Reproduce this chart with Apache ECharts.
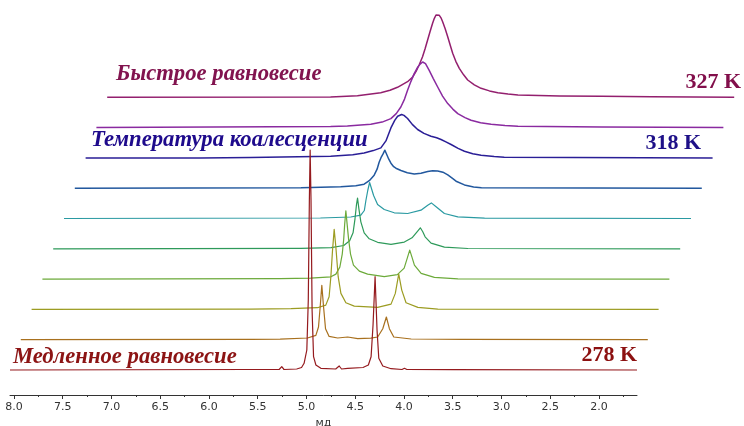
<!DOCTYPE html>
<html>
<head>
<meta charset="utf-8">
<script src="https://cdn.jsdelivr.net/npm/echarts@6/dist/echarts.min.js"></script>
<style>html,body{margin:0;padding:0;background:#fff}#c{width:744px;height:426px}</style>
</head>
<body>
<div id="c"></div>
<script>
// chemical shift range (ppm) of every trace, and axis ticks
const ppmMin = 1.61, ppmMax = 8.04;
const majorTicks = [2.0, 2.5, 3.0, 3.5, 4.0, 4.5, 5.0, 5.5, 6.0, 6.5, 7.0, 7.5, 8.0];
const minorTicks = [1.75, 2.25, 2.75, 3.25, 3.75, 4.25, 4.75, 5.25, 5.75, 6.25, 6.75, 7.25, 7.75];

// spectra: [ppm, intensity], front (278 K) to back (327 K)
const s0 = [[8.04,0],[5.6,0.5],[5.28,0.5],[5.253,3.3],[5.23,0.5],[5.1,1],[5.05,2.5],[5.024,6.7],[4.996,20],[4.981,70],[4.97,170],[4.962,220],[4.953,170],[4.942,60],[4.927,13.3],[4.903,5],[4.852,1.7],[4.70,1],[4.664,4],[4.64,1],[4.577,1.7],[4.42,2.5],[4.365,5],[4.337,13.3],[4.317,45],[4.296,93.3],[4.276,40],[4.258,11.7],[4.217,4],[4.132,1.3],[4.02,0.5],[3.995,1.7],[3.97,0.5],[3.5,0.3],[1.61,0]];
const s1 = [[8.04,0],[5.68,0.3],[5.38,0.5],[5.1,1.7],[5.014,4.3],[4.987,12.7],[4.97,32.7],[4.953,54.3],[4.935,32.7],[4.915,11],[4.878,3.3],[4.791,1.7],[4.688,2.7],[4.585,1],[4.45,1.5],[4.38,2.7],[4.328,11],[4.291,22.7],[4.26,11],[4.215,2.7],[4.037,0.7],[3.5,0.3],[1.61,0]];
const s2 = [[8.04,0],[5.79,0.3],[5.38,0.7],[5.108,1.7],[5.023,4.3],[4.989,12.7],[4.971,32.7],[4.954,59],[4.937,80],[4.92,62.7],[4.896,32.7],[4.868,16],[4.817,6.7],[4.731,3.3],[4.491,2],[4.354,5.3],[4.31,16],[4.275,35.3],[4.244,19.3],[4.2,6.7],[4.079,2],[3.874,0.3],[1.61,0]];
const s3 = [[8.04,0],[5.6,0.5],[5.29,1],[5.082,2.3],[5.03,5],[4.99,12],[4.965,25],[4.95,40],[4.94,55],[4.928,68.3],[4.915,55],[4.9,40],[4.88,25],[4.85,14],[4.79,8],[4.705,5],[4.534,2.5],[4.40,4.5],[4.33,11],[4.295,22],[4.273,29],[4.25,22],[4.225,14],[4.156,5.7],[4.02,1.7],[3.779,0.3],[1.61,0]];
const s4 = [[8.04,0],[5.5,0.5],[5.19,1.2],[5.06,3.3],[5.0,8],[4.965,16],[4.945,30],[4.93,44],[4.919,50.7],[4.905,40],[4.885,27],[4.851,16],[4.799,10],[4.713,6.5],[4.576,4.5],[4.439,6.7],[4.36,11],[4.3,18],[4.275,21],[4.25,17],[4.226,12],[4.165,5.7],[4.028,1.7],[3.787,0.3],[1.61,0]];
const s5 = [[8.04,0],[5.41,0.5],[5.099,1.5],[4.996,3.3],[4.96,8],[4.944,18],[4.925,28],[4.906,36],[4.89,31],[4.865,23],[4.824,14],[4.756,9],[4.653,5.7],[4.515,5],[4.379,8.3],[4.31,13.3],[4.273,15.6],[4.224,11.7],[4.139,5],[4.001,1.7],[3.727,0.3],[1.61,0]];
const s6 = [[8.04,0],[5.72,0.5],[5.313,1.5],[5.158,2.5],[5.073,4],[5.02,7.5],[4.97,13],[4.94,19],[4.919,26],[4.9,30.5],[4.88,34],[4.86,38],[4.84,33.5],[4.82,29],[4.798,25],[4.77,21.5],[4.747,20],[4.695,17.7],[4.63,15.5],[4.559,14.3],[4.49,15],[4.421,16.7],[4.37,17.5],[4.318,17.3],[4.265,16],[4.215,13.3],[4.17,10],[4.13,7],[4.044,3.3],[3.95,1.3],[3.87,0.5],[1.61,0]];
const s7 = [[8.04,0],[6.86,0],[6.35,0.5],[5.527,1.7],[5.3,3.2],[5.184,5],[5.09,7.3],[5.012,10],[4.96,17],[4.909,30],[4.87,37.5],[4.84,41.7],[4.82,43],[4.799,43.4],[4.775,42.5],[4.738,39.4],[4.69,33.5],[4.635,28.4],[4.57,24.5],[4.498,21.7],[4.44,20.2],[4.395,18.4],[4.345,16],[4.292,13.4],[4.22,9.5],[4.155,6.7],[4.07,4.2],[3.984,2.7],[3.85,1.3],[3.747,0.7],[1.61,0]];
const s8 = [[8.04,0],[5.638,1],[5.466,1.6],[5.226,3.3],[5.11,5.5],[5.02,9],[4.965,14],[4.918,20.6],[4.88,28.5],[4.849,37.3],[4.815,46],[4.781,54],[4.745,60.5],[4.72,63.5],[4.694,65.6],[4.665,64],[4.627,57.3],[4.585,49],[4.54,40.6],[4.49,31.5],[4.437,24],[4.385,18.5],[4.334,14],[4.26,10],[4.198,7.3],[4.1,4.8],[3.992,3.3],[3.85,2],[3.717,1.3],[2.86,0.5],[1.61,0]];
const s9 = [[8.04,0],[5.749,0.3],[5.474,1.6],[5.235,4.6],[5.14,7],[5.063,10],[4.96,15.6],[4.91,20],[4.874,25.6],[4.84,32.5],[4.806,40.6],[4.78,48.5],[4.754,57.3],[4.728,66],[4.703,74],[4.685,79],[4.668,82.3],[4.651,83.3],[4.634,82],[4.617,79.5],[4.6,75.6],[4.574,68.5],[4.548,60.6],[4.522,52],[4.497,44],[4.465,36],[4.429,29],[4.385,22.5],[4.343,17.3],[4.275,12.5],[4.206,9],[4.12,6.4],[4.034,4.6],[3.93,3.2],[3.828,2.3],[3.4,1.4],[2.97,1],[2.46,0.5],[1.61,0]];

const spectra = [s0, s1, s2, s3, s4, s5, s6, s7, s8, s9];
const colors = ['#951a1e', '#a8701e', '#9c9c22', '#6caa3a', '#2e9a5a', '#2a9aa2', '#22589e', '#2a1e96', '#8a2aa0', '#931f6e'];

const chart = echarts.init(document.getElementById('c'), null, {renderer: 'canvas'});
const grids = [], xAxes = [], yAxes = [], series = [];
spectra.forEach((d, i) => {
  grids.push({left: 10 + 10.8 * i, width: 627, bottom: 56 + 30.3 * i, height: 250, outerBoundsMode: 'none', containLabel: false});
  xAxes.push({type: 'value', gridIndex: i, min: ppmMin, max: ppmMax, inverse: true, show: false});
  yAxes.push({type: 'value', gridIndex: i, min: 0, max: 250, show: false});
});
for (let i = spectra.length - 1; i >= 0; i--) {
  series.push({
    type: 'line', xAxisIndex: i, yAxisIndex: i, data: spectra[i],
    symbol: 'none', showSymbol: false, silent: true, clip: false, smooth: false,
    lineStyle: {color: colors[i], width: i >= 6 ? 1.5 : 1.2, join: 'round'}
  });
}
// visible ppm axis under the front trace
xAxes.push({
  type: 'value', gridIndex: 0, min: ppmMin, max: ppmMax, inverse: true, position: 'bottom', offset: 25,
  axisLine: {show: true, lineStyle: {color: '#333', width: 1}},
  axisTick: {show: true, customValues: majorTicks, length: 4, lineStyle: {color: '#333'}},
  axisLabel: {show: true, customValues: majorTicks, formatter: v => v.toFixed(1), fontSize: 11, fontFamily: 'DejaVu Sans', color: '#333', margin: 7},
  splitLine: {show: false},
  name: 'мд', nameLocation: 'middle', nameGap: 22,
  nameTextStyle: {fontSize: 11, fontFamily: 'DejaVu Sans', color: '#333'}
});
xAxes.push({
  type: 'value', gridIndex: 0, min: ppmMin, max: ppmMax, inverse: true, position: 'bottom', offset: 25,
  axisLine: {show: false},
  axisTick: {show: true, customValues: minorTicks, length: 2, lineStyle: {color: '#333'}},
  axisLabel: {show: false}, splitLine: {show: false}
});

const serifBI = 'italic bold 22.7px "Liberation Serif"';
const serifB = 'bold 22px "Liberation Serif"';
chart.setOption({
  animation: false,
  backgroundColor: '#fff',
  grid: grids, xAxis: xAxes, yAxis: yAxes, series: series,
  graphic: [
    {type: 'text', x: 116, y: 74, style: {text: 'Быстрое равновесие', font: serifBI, fill: '#82144f', textAlign: 'left', textVerticalAlign: 'middle'}},
    {type: 'text', x: 91, y: 140, style: {text: 'Температура коалесценции', font: serifBI, fill: '#1e0a8c', textAlign: 'left', textVerticalAlign: 'middle'}},
    {type: 'text', x: 13, y: 357, style: {text: 'Медленное равновесие', font: serifBI, fill: '#8c1414', textAlign: 'left', textVerticalAlign: 'middle'}},
    {type: 'text', x: 741, y: 82, style: {text: '327 K', font: serifB, fill: '#820f4b', textAlign: 'right', textVerticalAlign: 'middle'}},
    {type: 'text', x: 701, y: 143, style: {text: '318 K', font: serifB, fill: '#1e1088', textAlign: 'right', textVerticalAlign: 'middle'}},
    {type: 'text', x: 637, y: 355, style: {text: '278 K', font: serifB, fill: '#8c1010', textAlign: 'right', textVerticalAlign: 'middle'}}
  ]
});
</script>
</body>
</html>
